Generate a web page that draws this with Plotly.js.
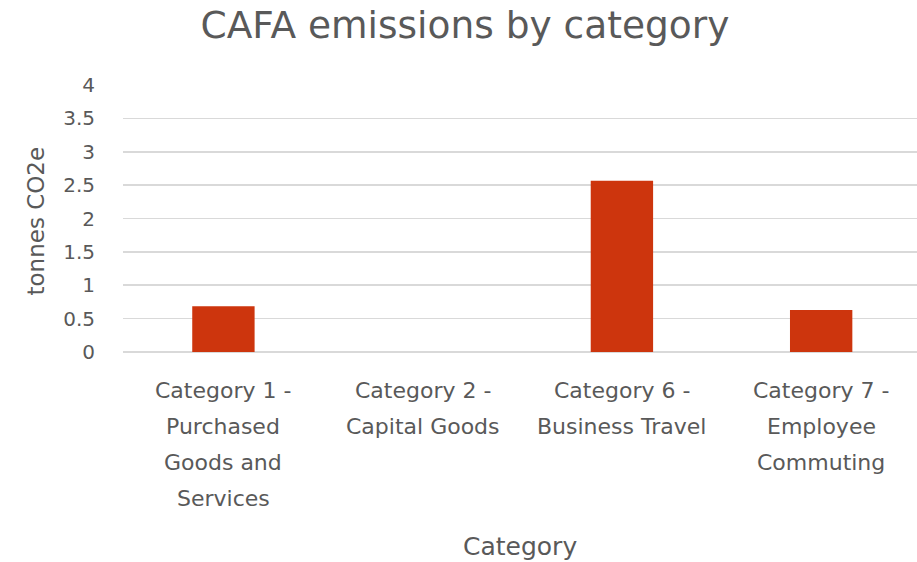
<!DOCTYPE html>
<html>
<head>
<meta charset="utf-8">
<script src="https://cdn.plot.ly/plotly-3.0.1.min.js"></script>
<style>html,body{margin:0;padding:0;background:#fff;}#chart{width:917px;height:562px;}</style>
</head>
<body>
<div id="chart"></div>
<script>
var categories = ["Category 1 - Purchased Goods and Services", "Category 2 - Capital Goods", "Category 6 - Business Travel", "Category 7 - Employee Commuting"];
var labelLines = [
  ["Category 1 -", "Purchased", "Goods and", "Services"],
  ["Category 2 -", "Capital Goods"],
  ["Category 6 -", "Business Travel"],
  ["Category 7 -", "Employee", "Commuting"]
];
var emissions = [0.685, 0, 2.565, 0.63];
var yTicks = [0, 0.5, 1, 1.5, 2, 2.5, 3, 3.5, 4];
var yTickText = ["0", "0.5", "1", "1.5", "2", "2.5", "3", "3.5", "4"];
var chartTitle = "CAFA emissions by category";
var xTitle = "Category";
var yTitle = "tonnes CO2e";

var FONT = "DejaVu Sans, Open Sans, sans-serif";
var GREY = "#595959";

var annotations = [];
labelLines.forEach(function (lines, i) {
  lines.forEach(function (line, j) {
    annotations.push({
      x: categories[i], xref: "x", y: 0, yref: "paper",
      yanchor: "middle", xanchor: "center",
      yshift: -38 - 36 * j,
      text: line, showarrow: false,
      font: {family: FONT, size: 22, color: GREY}
    });
  });
});
annotations.push({
  x: 0.5, xref: "paper", y: 0, yref: "paper", yanchor: "middle", xanchor: "center",
  yshift: -194, text: xTitle, showarrow: false,
  font: {family: FONT, size: 25, color: GREY}
});
annotations.push({
  x: 0, xref: "paper", y: 0.5, yref: "paper", yanchor: "middle", xanchor: "center",
  xshift: -88, yshift: -3, textangle: -90, text: yTitle, showarrow: false,
  font: {family: FONT, size: 23, color: GREY}
});

var trace = {
  type: "bar",
  x: categories,
  y: emissions,
  width: 0.313,
  marker: {color: "#CD350D", line: {width: 0}},
  hoverinfo: "x+y"
};

var layout = {
  width: 917, height: 562,
  margin: {l: 123, r: 0, t: 85, b: 210, pad: 0},
  paper_bgcolor: "#fff", plot_bgcolor: "#fff",
  showlegend: false,
  title: {text: chartTitle, x: 0.507, xanchor: "center", y: 0.955, yanchor: "middle",
          font: {family: FONT, size: 37.5, color: GREY}},
  xaxis: {
    type: "category", showticklabels: false, showgrid: false, zeroline: false, showline: false,
    range: [-0.504, 3.481]
  },
  yaxis: {
    range: [0, 4], tickvals: yTicks, ticktext: yTickText,
    showgrid: true, gridcolor: "#D9D9D9", gridwidth: 1.6,
    zeroline: true, zerolinecolor: "#D9D9D9", zerolinewidth: 1.6, showline: false,
    ticks: "outside", ticklen: 23, tickcolor: "rgba(0,0,0,0)",
    tickfont: {family: FONT, size: 20, color: GREY}
  },
  annotations: annotations
};

Plotly.newPlot("chart", [trace], layout, {displayModeBar: false, staticPlot: true});
</script>
</body>
</html>
